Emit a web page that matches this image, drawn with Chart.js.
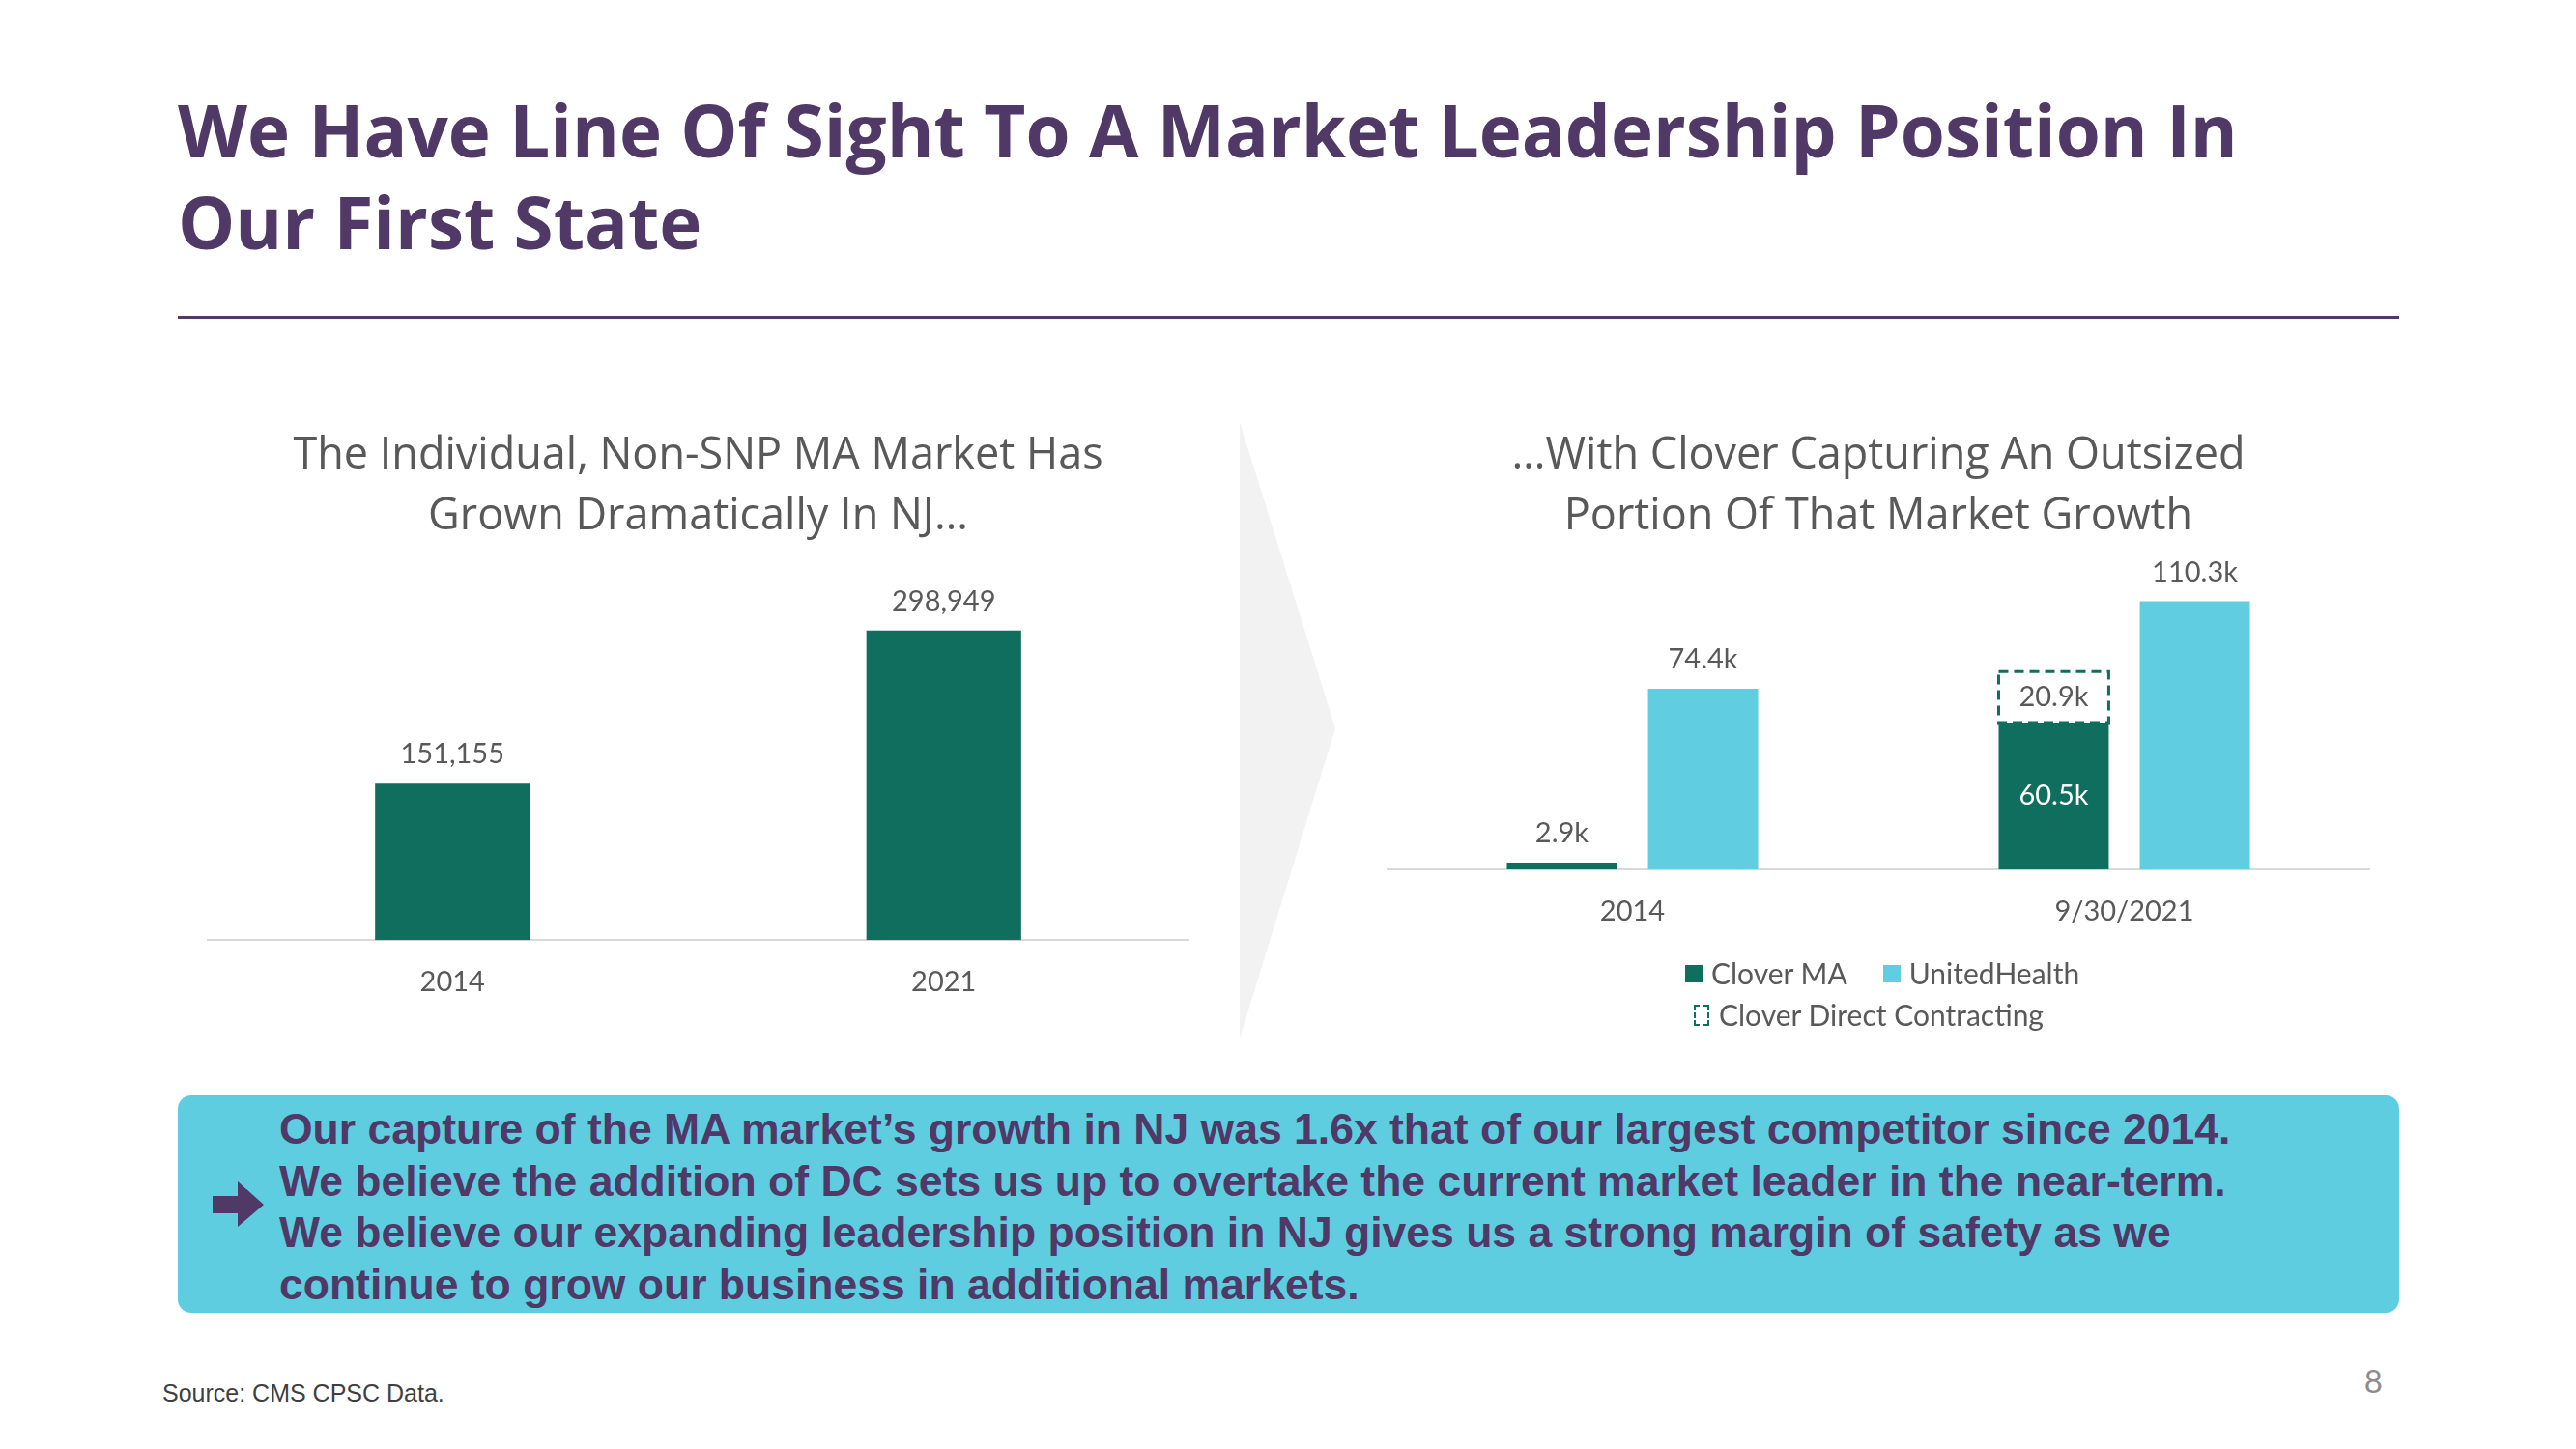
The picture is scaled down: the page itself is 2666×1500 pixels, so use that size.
<!DOCTYPE html>
<html>
<head>
<meta charset="utf-8">
<script src="https://cdn.jsdelivr.net/npm/chart.js@4.4.1/dist/chart.umd.min.js"></script>
<style>
    body { margin: 0; width: 2666px; height: 1500px; position: relative; overflow: hidden; background: #fff; font-family: Lato, sans-serif; }
    .abs { position: absolute; }
    #slideTitle { left: 184px; top: 87px; font: 700 74.5px/95px 'Open Sans', sans-serif; color: #503867; white-space: nowrap; }
    #titleRule { left: 184px; top: 327px; width: 2299px; height: 3px; background: #503867; }
    #callout { left: 184px; top: 1134px; width: 2299px; height: 225px; background: #5ecde0; border-radius: 14px; }
    #calloutText { left: 105px; top: 8px; font: 700 44.5px/53.5px 'Liberation Sans', Arial, sans-serif; color: #503867; white-space: nowrap; }
    #source { left: 168px; top: 1430px; font: 25px/24px 'Liberation Sans', Arial, sans-serif; color: #3f3f3f; }
    #pageNum { right: 200px; top: 1413px; font: 33px/33px Lato, sans-serif; color: #8c8c8c; }
    #legend { left: 1744px; top: 986px; width: 440px; display: flex; flex-wrap: wrap; justify-content: flex-start; column-gap: 37px; font: 30px/43px Lato, sans-serif; color: #595959; }
    #legend .item { display: flex; align-items: center; white-space: nowrap; }
    #legend .swatch { width: 18px; height: 18px; margin-right: 9px; box-sizing: border-box; }
    #legend .swatch.dashed { width: 16px; height: 22px; margin-left: 9px; margin-right: 10px; }
</style>
</head>
<body>

<div id="slideTitle" class="abs">We Have Line Of Sight To A Market Leadership Position In<br>Our First State</div>
<div id="titleRule" class="abs"></div>

<svg class="abs" style="left:1283px;top:437px" width="100" height="640">
    <polygon points="0,0 99,317 0,638" fill="#f2f2f2"/>
</svg>

<div class="abs" style="left:214px;top:441px;width:1017px;height:619px">
    <canvas id="marketCanvas" width="1017" height="619"></canvas>
</div>
<div class="abs" style="left:1435px;top:441px;width:1018px;height:546px">
    <canvas id="cloverCanvas" width="1018" height="546"></canvas>
</div>
<div id="legend" class="abs"></div>

<div id="callout" class="abs">
    <svg class="abs" style="left:36px;top:89px" width="54" height="48">
        <polygon points="0,15 26,15 26,0 53,24 26,47 26,33 0,33" fill="#503867"/>
    </svg>
    <div id="calloutText" class="abs">Our capture of the MA market’s growth in NJ was 1.6x that of our largest competitor since 2014.<br>We believe the addition of DC sets us up to overtake the current market leader in the near-term.<br>We believe our expanding leadership position in NJ gives us a strong margin of safety as we<br>continue to grow our business in additional markets.</div>
</div>

<div id="source" class="abs">Source: CMS CPSC Data.</div>
<div id="pageNum" class="abs">8</div>

<script>
// ---- datos ----
const marketYears = ['2014', '2021'];
const marketMembers = [151155, 298949];

const cloverDates = ['2014', '9/30/2021'];
const seriesNames = ['Clover MA', 'Clover Direct Contracting', 'UnitedHealth'];
const cloverMA = [2.9, 60.5];          // miles de afiliados
const cloverDC = [null, 20.9];
const unitedHealth = [74.4, 110.3];

const GREEN = '#0f6e5e';
const BLUE = '#61cde0';
const GRAY_TEXT = '#595959';

Chart.defaults.font.family = 'Lato';
Chart.defaults.color = GRAY_TEXT;

/**
 * dibuja el valor de cada barra, encima o dentro de ella
 */
const valueLabels = {
    id: 'valueLabels',
    afterDatasetsDraw(chart, args, opts) {
        const ctx = chart.ctx;
        ctx.save();
        ctx.font = opts.size + 'px Lato';
        ctx.textAlign = 'center';
        chart.data.datasets.forEach((ds, i) => {
            const meta = chart.getDatasetMeta(i);
            meta.data.forEach((bar, j) => {
                const v = ds.data[j];
                if (v == null) return;
                const p = bar.getProps(['x', 'y', 'base'], true);
                const h = p.base - p.y;
                let place = ds.labelPlace || 'top';
                if (place === 'auto') place = h > 60 ? 'center' : 'top';
                if (place === 'center') {
                    ctx.fillStyle = ds.labelColor || GRAY_TEXT;
                    ctx.textBaseline = 'middle';
                    ctx.fillText(opts.format(v), p.x, (p.y + p.base) / 2);
                } else {
                    ctx.fillStyle = GRAY_TEXT;
                    ctx.textBaseline = 'alphabetic';
                    ctx.fillText(opts.format(v), p.x, p.y - 21);
                }
            });
        });
        ctx.restore();
    }
};

/**
 * contorno discontinuo para las barras marcadas con dashed: true
 */
const dashedBars = {
    id: 'dashedBars',
    afterDatasetsDraw(chart) {
        const ctx = chart.ctx;
        chart.data.datasets.forEach((ds, i) => {
            if (!ds.dashed) return;
            chart.getDatasetMeta(i).data.forEach((bar, j) => {
                if (ds.data[j] == null) return;
                const p = bar.getProps(['x', 'y', 'base', 'width'], true);
                ctx.save();
                ctx.strokeStyle = ds.borderColor;
                ctx.lineWidth = 3;
                ctx.setLineDash([10, 6]);
                ctx.strokeRect(p.x - p.width / 2, p.y, p.width, p.base - p.y);
                ctx.restore();
            });
        });
    }
};

function xAxis() {
    return {
        grid: { display: false, drawTicks: false },
        border: { display: true, color: '#d9d9d9', width: 2 },
        ticks: { padding: 26, color: GRAY_TEXT, font: { size: 29 } }
    };
}

function titleBlock(lines, bottom) {
    return {
        display: true,
        text: lines,
        color: GRAY_TEXT,
        font: { family: 'Open Sans', size: 45, weight: 'normal', lineHeight: 1.4 },
        padding: { top: 0, bottom: bottom }
    };
}

new Chart(document.getElementById('marketCanvas'), {
    type: 'bar',
    data: {
        labels: marketYears,
        datasets: [{
            label: 'Members',
            data: marketMembers,
            backgroundColor: GREEN,
            categoryPercentage: 1,
            barPercentage: 0.315
        }]
    },
    plugins: [valueLabels],
    options: {
        responsive: false,
        animation: false,
        devicePixelRatio: 1,
        layout: { padding: 0 },
        scales: {
            x: xAxis(),
            y: { display: false, min: 0, max: 350000 }
        },
        plugins: {
            legend: { display: false },
            tooltip: { enabled: false },
            title: titleBlock(['The Individual, Non-SNP MA Market Has', 'Grown Dramatically In NJ…'], 31),
            valueLabels: { size: 29, format: v => v.toLocaleString('en-US') }
        }
    }
});

const cloverChart = new Chart(document.getElementById('cloverCanvas'), {
    type: 'bar',
    data: {
        labels: cloverDates,
        datasets: [{
            label: seriesNames[0],
            data: cloverMA,
            stack: 'clover',
            backgroundColor: GREEN,
            labelPlace: 'auto',
            labelColor: '#ffffff'
        }, {
            label: seriesNames[1],
            data: cloverDC,
            stack: 'clover',
            backgroundColor: 'rgba(255,255,255,0)',
            borderColor: GREEN,
            dashed: true,
            labelPlace: 'center',
            labelColor: GRAY_TEXT
        }, {
            label: seriesNames[2],
            data: unitedHealth,
            stack: 'uh',
            backgroundColor: BLUE
        }]
    },
    plugins: [dashedBars, valueLabels],
    options: {
        responsive: false,
        animation: false,
        devicePixelRatio: 1,
        layout: { padding: 0 },
        datasets: { bar: { categoryPercentage: 0.574, barPercentage: 0.78 } },
        scales: {
            x: Object.assign(xAxis(), { stacked: true }),
            y: { display: false, stacked: true, min: 0, max: 130 }
        },
        plugins: {
            legend: { display: false },
            tooltip: { enabled: false },
            title: titleBlock(['…With Clover Capturing An Outsized', 'Portion Of That Market Growth'], 6),
            valueLabels: { size: 29, format: v => v.toFixed(1) + 'k' }
        }
    }
});

// leyenda en html: dos filas como en la diapositiva
(function buildLegend(chart) {
    const box = document.getElementById('legend');
    const order = [0, 2, 1];
    order.forEach(i => {
        const ds = chart.data.datasets[i];
        const item = document.createElement('div');
        item.className = 'item';
        const sw = document.createElement('span');
        sw.className = 'swatch';
        if (ds.dashed) {
            sw.classList.add('dashed');
            sw.style.border = '2.5px dashed ' + ds.borderColor;
        } else {
            sw.style.background = ds.backgroundColor;
        }
        item.appendChild(sw);
        item.appendChild(document.createTextNode(ds.label));
        box.appendChild(item);
    });
})(cloverChart);
</script>
</body>
</html>
